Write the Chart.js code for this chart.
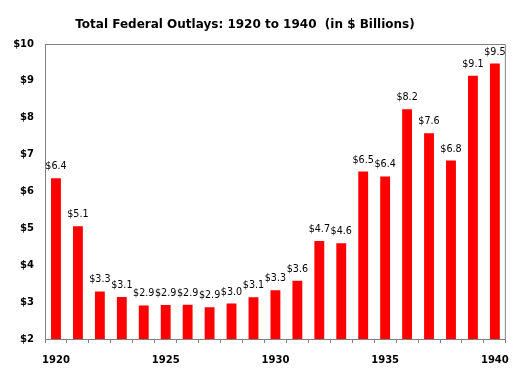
<!DOCTYPE html>
<html>
<head>
<meta charset="utf-8">
<script src="https://cdn.jsdelivr.net/npm/chart.js@4.4.1/dist/chart.umd.min.js"></script>
<style>
html,body{margin:0;padding:0;background:#fff;}
#wrap{width:520px;height:374px;position:relative;}
</style>
</head>
<body>
<div id="wrap"><canvas id="c" width="520" height="374"></canvas></div>
<script>
const years = ['1920','1921','1922','1923','1924','1925','1926','1927','1928','1929','1930','1931','1932','1933','1934','1935','1936','1937','1938','1939','1940'];
const outlays = [6.36,5.06,3.29,3.14,2.91,2.92,2.93,2.86,2.96,3.13,3.32,3.58,4.66,4.60,6.54,6.41,8.23,7.58,6.84,9.14,9.47];
const shownYearLabels = ['1920','1925','1930','1935','1940'];
const yTicks = [2,3,4,5,6,7,8,9,10];
const titleText = 'Total Federal Outlays: 1920 to 1940  (in $ Billions)';

const extras = {
  id: 'extras',
  afterDraw(chart) {
    const ctx = chart.ctx;
    const a = chart.chartArea;
    ctx.save();
    ctx.strokeStyle = '#808080';
    ctx.lineWidth = 1;
    ctx.beginPath();
    ctx.moveTo(a.left, a.top + 0.5);
    ctx.lineTo(a.right - 0.5, a.top + 0.5);
    ctx.lineTo(a.right - 0.5, a.bottom);
    ctx.stroke();
    const meta = chart.getDatasetMeta(0);
    ctx.fillStyle = '#000';
    ctx.font = '9.6px "DejaVu Sans"';
    ctx.textAlign = 'center';
    ctx.textBaseline = 'alphabetic';
    meta.data.forEach((bar, i) => {
      ctx.fillText('$' + outlays[i].toFixed(1), bar.x, bar.y - 9);
    });
    ctx.font = 'bold 12px "DejaVu Sans"';
    ctx.textAlign = 'center';
    ctx.fillText(titleText, 245, 28);
    ctx.restore();
  }
};

new Chart(document.getElementById('c'), {
  type: 'bar',
  data: {
    labels: years,
    datasets: [{
      data: outlays,
      backgroundColor: '#FF0000',
      borderWidth: 0,
      barPercentage: 0.9,
      categoryPercentage: 0.5
    }]
  },
  options: {
    responsive: false,
    animation: false,
    devicePixelRatio: 1,
    layout: { padding: { left: 0, right: 9, top: 44, bottom: 0 } },
    plugins: { legend: { display: false }, tooltip: { enabled: false }, title: { display: false } },
    scales: {
      x: {
        offset: true,
        grid: { offset: true, drawOnChartArea: false, drawTicks: true, tickLength: 4, color: '#808080' },
        border: { color: '#808080' },
        ticks: {
          autoSkip: false, maxRotation: 0, padding: 11, color: '#000',
          font: { family: 'DejaVu Sans', weight: 'bold', size: 10 },
          callback: function(v, i) { const l = years[i]; return shownYearLabels.includes(l) ? l : ''; }
        },
        afterFit(scale) { scale.height = 35; }
      },
      y: {
        min: 2, max: 10,
        afterBuildTicks(scale) { scale.ticks = yTicks.map(v => ({ value: v })); },
        grid: { drawOnChartArea: false, drawTicks: false },
        border: { color: '#808080' },
        ticks: {
          padding: 11, color: '#000',
          font: { family: 'DejaVu Sans', weight: 'bold', size: 10 },
          callback: v => '$' + v
        },
        afterFit(scale) { scale.width = 45; }
      }
    }
  },
  plugins: [extras]
});
</script>
</body>
</html>
